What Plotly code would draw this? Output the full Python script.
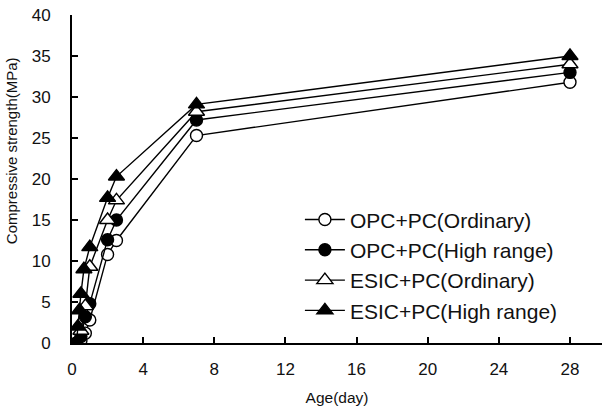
import plotly.graph_objects as go

# Data (age in days, compressive strength in MPa)
opc_ord_age = [0.25, 0.5, 0.75, 1, 2, 2.5, 7, 28]
opc_ord_val = [0, 0.3, 1.2, 2.8, 10.8, 12.5, 25.3, 31.8]

opc_hr_age = [0.25, 0.5, 0.75, 1, 2, 2.5, 7, 28]
opc_hr_val = [0, 0.8, 3.2, 4.8, 12.6, 15.0, 27.2, 33.0]

esic_ord_age = [0.25, 0.5, 0.75, 1, 2, 2.5, 7, 28]
esic_ord_val = [0, 1.5, 4.5, 9.3, 15.0, 17.4, 28.2, 34.0]

esic_hr_age = [0.25, 0.33, 0.42, 0.5, 0.67, 1, 2, 2.5, 7, 28]
esic_hr_val = [0, 2.0, 4.0, 6.0, 9.0, 11.7, 17.7, 20.3, 29.1, 35.0]

x_ticks = [0, 4, 8, 12, 16, 20, 24, 28]
y_ticks = [0, 5, 10, 15, 20, 25, 30, 35, 40]

series = [
    ("OPC+PC(Ordinary)", opc_ord_age, opc_ord_val, "circle", "white", 12),
    ("OPC+PC(High range)", opc_hr_age, opc_hr_val, "circle", "black", 12),
    ("ESIC+PC(Ordinary)", esic_ord_age, esic_ord_val, "triangle-up", "white", 14),
    ("ESIC+PC(High range)", esic_hr_age, esic_hr_val, "triangle-up", "black", 14),
]

fig = go.Figure()
for i, (name, xs, ys, sym, fill, sz) in enumerate(series):
    fig.add_trace(go.Scatter(
        x=xs, y=ys, name=name, mode="lines+markers",
        legendgroup=f"g{i}",
        line=dict(color="black", width=1.4),
        marker=dict(symbol=sym, size=sz, color=fill,
                    line=dict(color="black", width=1.4)),
    ))

fam = "Liberation Sans, Arial, sans-serif"

fig.update_layout(
    width=602, height=410,
    margin=dict(l=72, r=0, t=15, b=67),
    paper_bgcolor="white", plot_bgcolor="white",
    font=dict(family=fam, size=17, color="#111"),
    showlegend=True,
    legend=dict(x=0.43, y=0.438, xanchor="left", yanchor="top",
                font=dict(family=fam, size=21, color="#111"),
                bgcolor="rgba(0,0,0,0)", tracegroupgap=0, itemwidth=40),
    xaxis=dict(range=[0, 29.8], tickvals=x_ticks, ticks="inside", ticklen=6,
               tickwidth=2, tickcolor="black", showline=True, linecolor="black",
               linewidth=2, showgrid=False, zeroline=False, ticklabelstandoff=10,
               tickfont=dict(size=17),
               title=dict(text="Age(day)", font=dict(size=15.5), standoff=14)),
    yaxis=dict(range=[0, 40], tickvals=y_ticks, ticks="inside", ticklen=6,
               tickwidth=2, tickcolor="black", showline=True, linecolor="black",
               linewidth=2, showgrid=False, zeroline=False, ticklabelstandoff=16,
               tickfont=dict(size=17)),
    annotations=[dict(
        text="Compressive strength(MPa)", textangle=-90,
        xref="paper", yref="paper", x=-0.115, y=0.585,
        xanchor="center", yanchor="middle", showarrow=False,
        font=dict(family=fam, size=15, color="#111"),
    )],
)

fig.write_html("out.html")
